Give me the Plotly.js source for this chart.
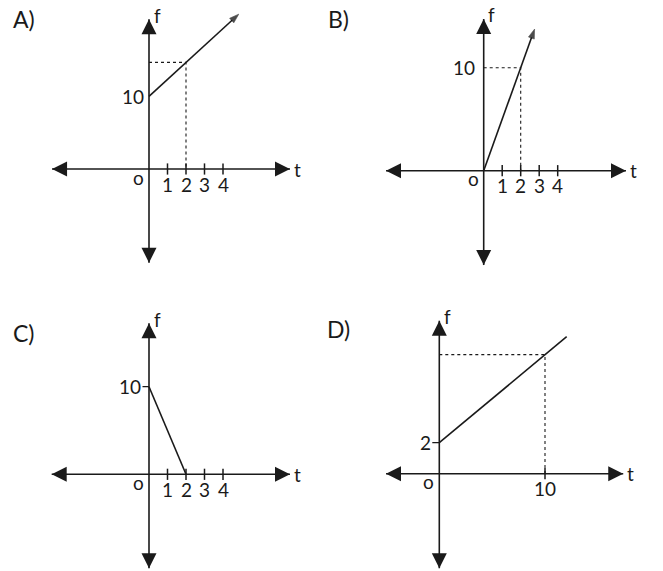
<!DOCTYPE html>
<html><head><meta charset="utf-8">
<script src="https://cdn.plot.ly/plotly-3.0.1.min.js"></script>
<style>html,body{margin:0;padding:0;background:#fff}#chart{width:663px;height:571px}</style>
</head><body><div id="chart"></div>
<script>
// ---------- data ----------
const panelLabels = ['A)', 'B)', 'C)', 'D)'];
const tickValsABC = [1, 2, 3, 4];
const tickTextABC = ['1', '2', '3', '4'];
const tickValsD = [10];
const tickTextD = ['10'];

// graph lines (t, f)
const lineA_t = [0, 4.85];   const lineA_f = [10, 21.3];
const lineB_t = [0, 2.75];   const lineB_f = [0, 13.75];
const lineC_t = [0, 2];      const lineC_f = [10, 0];
const lineD_t = [0, 12.05];  const lineD_f = [2, 8.84];

// dotted guide lines (t, f)
const guideA_t = [0, 2, 2];  const guideA_f = [14.66, 14.66, 0];
const guideB_t = [0, 2, 2];  const guideB_f = [10, 10, 0];
const guideD_t = [0, 10, 10]; const guideD_f = [7.68, 7.68, 0];

// f-axis labels
const fLabelA = {v: 10, text: '10'};
const fLabelB = {v: 10, text: '10'};
const fLabelC = {v: 10, text: '10'};
const fLabelD = {v: 2, text: '2'};

// ---------- layout geometry (pixels) ----------
const W = 663, H = 571;
const INK = '#1a1a1a';
const FONT = 'Lato, "Open Sans", sans-serif';
const FS = 19, FS_LABEL = 23;
const panels = [
  {key:'A', ox:149,   oy:169,   sx:18.5,  sy:7.27, box:[40,0,322,286],
   ext:{l:-5.24, r:7.62, t:20.6, b:-12.9},
   lt:lineA_t, lf:lineA_f, arrow:true, gt:guideA_t, gf:guideA_f,
   ticks:tickValsABC, tickText:tickTextABC, fl:fLabelA, fTick:false, flShift:-3,
   label:panelLabels[0], lx:11, ly:18.6},
  {key:'B', ox:483.7, oy:170.7, sx:18.5,  sy:10.3, box:[350,0,663,286],
   ext:{l:-5.28, r:7.69, t:14.73, b:-9.16},
   lt:lineB_t, lf:lineB_f, arrow:true, gt:guideB_t, gf:guideB_f,
   ticks:tickValsABC, tickText:tickTextABC, fl:fLabelB, fTick:false, flShift:-7,
   label:panelLabels[1], lx:326, ly:18.6},
  {key:'C', ox:149,   oy:474.3, sx:18.5,  sy:8.76, box:[40,288,322,571],
   ext:{l:-5.26, r:7.62, t:17.24, b:-10.73},
   lt:lineC_t, lf:lineC_f, arrow:false, gt:null, gf:null,
   ticks:tickValsABC, tickText:tickTextABC, fl:fLabelC, fTick:true, flAx:-19,
   label:panelLabels[2], lx:11, ly:332.6},
  {key:'D', ox:439.3, oy:473.7, sx:10.57, sy:15.5, box:[350,288,663,571],
   ext:{l:-5.04, r:17.4, t:9.87, b:-6.1},
   lt:lineD_t, lf:lineD_f, arrow:false, gt:guideD_t, gf:guideD_f,
   ticks:tickValsD, tickText:tickTextD, fl:fLabelD, fTick:true, flAx:-14,
   label:panelLabels[3], lx:325, ly:328.6}
];

const traces = [];
const annotations = [];
const layout = {
  width: W, height: H, margin: {l:0, r:0, t:0, b:0},
  paper_bgcolor: '#ffffff', plot_bgcolor: 'rgba(0,0,0,0)',
  showlegend: false, font: {family: FONT, size: FS, color: INK},
  annotations: annotations
};

panels.forEach((p, i) => {
  const n = i === 0 ? '' : String(i + 1);
  const xa = 'x' + n, ya = 'y' + n;
  const [bx0, by0, bx1, by1] = p.box;
  layout['xaxis' + n] = {
    domain: [bx0 / W, bx1 / W],
    range: [(bx0 - p.ox) / p.sx, (bx1 - p.ox) / p.sx],
    visible: false, fixedrange: true, anchor: ya
  };
  layout['yaxis' + n] = {
    domain: [1 - by1 / H, 1 - by0 / H],
    range: [(p.oy - by1) / p.sy, (p.oy - by0) / p.sy],
    visible: false, fixedrange: true, anchor: xa
  };
  const e = p.ext;
  // axis lines
  traces.push({x:[e.l, e.r], y:[0, 0], xaxis:xa, yaxis:ya, mode:'lines',
    line:{color:INK, width:1.6}, hoverinfo:'skip', cliponaxis:false});
  traces.push({x:[0, 0], y:[e.b, e.t], xaxis:xa, yaxis:ya, mode:'lines',
    line:{color:INK, width:1.6}, hoverinfo:'skip', cliponaxis:false});
  // axis arrowheads
  traces.push({x:[e.l, e.r, 0, 0], y:[0, 0, e.t, e.b], xaxis:xa, yaxis:ya,
    mode:'markers', cliponaxis:false, hoverinfo:'skip',
    marker:{symbol:['arrow-left','arrow-right','arrow-up','arrow-down'],
      size:15, color:INK, line:{width:0}}});
  // dotted guides
  if (p.gt) {
    traces.push({x:p.gt, y:p.gf, xaxis:xa, yaxis:ya, mode:'lines',
      line:{color:INK, width:1.1, dash:'dot'}, hoverinfo:'skip'});
  }
  // tick marks
  traces.push({x:p.ticks, y:p.ticks.map(() => 0), xaxis:xa, yaxis:ya,
    mode:'markers', cliponaxis:false, hoverinfo:'skip',
    marker:{symbol:'line-ns', size:8, line:{width:1.5, color:INK}}});
  // graph line
  const lineTrace = {x:p.lt, y:p.lf, xaxis:xa, yaxis:ya, hoverinfo:'skip',
    cliponaxis:false, line:{color:INK, width:1.6}};
  if (p.arrow) {
    lineTrace.mode = 'lines+markers';
    lineTrace.marker = {symbol:'arrow', angleref:'previous',
      size:p.lt.map((v, k) => k === p.lt.length - 1 ? 10 : 0), color:'#000000',
      line:{width:0.6, color:'#000000'}};
  } else {
    lineTrace.mode = 'lines';
  }
  traces.push(lineTrace);

  // tick labels
  p.ticks.forEach((t, k) => {
    annotations.push({x:t, y:0, xref:xa, yref:ya, text:p.tickText[k], showarrow:false,
      xanchor:'center', yanchor:'middle', yshift:-15, font:{family:FONT, size:FS, color:INK}});
  });
  // f label
  if (p.fTick) {
    annotations.push({x:0, y:p.fl.v, xref:xa, yref:ya, text:p.fl.text, showarrow:true,
      arrowhead:0, arrowwidth:1.3, arrowcolor:INK, ax:p.flAx, ay:0,
      font:{family:FONT, size:FS, color:INK}});
  } else {
    annotations.push({x:0, y:p.fl.v, xref:xa, yref:ya, text:p.fl.text, showarrow:false,
      xanchor:'right', yanchor:'middle', xshift:p.flShift, font:{family:FONT, size:FS, color:INK}});
  }
  // axis names
  annotations.push({x:0, y:e.t, xref:xa, yref:ya, text:'f', showarrow:false,
    xanchor:'left', yanchor:'middle', xshift:2.5, yshift:4, font:{family:FONT, size:FS, color:INK}});
  annotations.push({x:e.r, y:0, xref:xa, yref:ya, text:'t', showarrow:false,
    xanchor:'left', yanchor:'middle', xshift:2, yshift:0, font:{family:FONT, size:FS, color:INK}});
  annotations.push({x:0, y:0, xref:xa, yref:ya, text:'o', showarrow:false,
    xanchor:'right', yanchor:'middle', xshift:-3, yshift:-8, font:{family:FONT, size:FS, color:INK}});
  // panel letter
  annotations.push({x:p.lx / W, y:1 - p.ly / H, xref:'paper', yref:'paper', text:p.label,
    showarrow:false, xanchor:'left', yanchor:'middle', font:{family:FONT, size:FS_LABEL, color:INK}});
});

Plotly.newPlot('chart', traces, layout, {staticPlot:true, displayModeBar:false});
</script>
</body></html>
